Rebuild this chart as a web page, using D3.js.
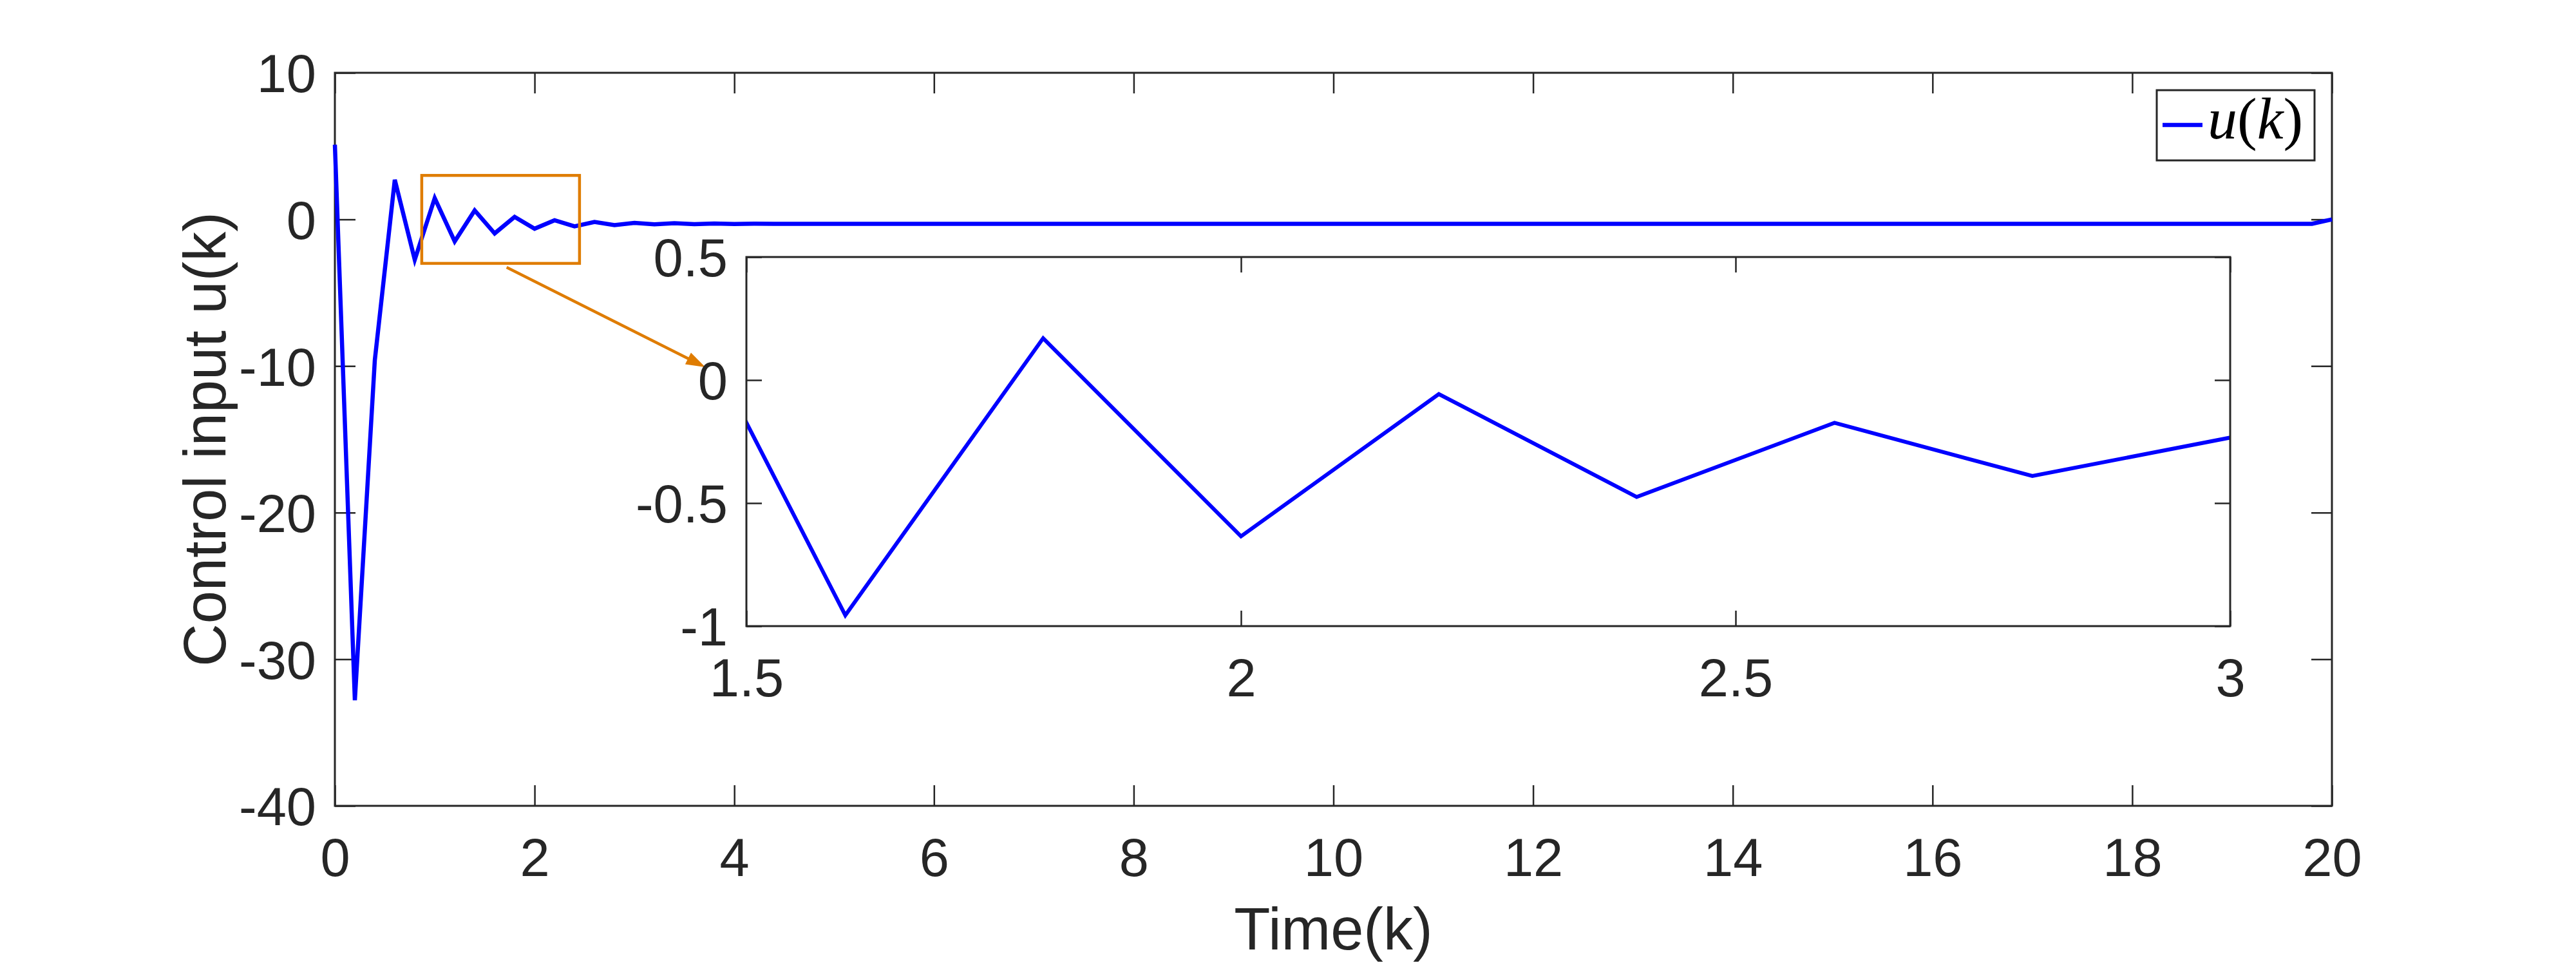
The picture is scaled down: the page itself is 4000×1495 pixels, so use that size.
<!DOCTYPE html>
<html><head><meta charset="utf-8">
<script src="https://cdn.jsdelivr.net/npm/d3@7"></script>
<style>html,body{margin:0;padding:0;background:#fff;}</style>
</head><body>
<svg id="chart" width="4000" height="1495"></svg>
<script>
// ---------- data ----------
const timeSteps = [0,0.2,0.4,0.6,0.8,1,1.2,1.4,1.6,1.8,2,2.2,2.4,2.6,2.8,3,3.2,3.4,3.6,3.8,
  4,4.2,4.4,4.6,4.8,5,5.2,5.4,5.6,5.8,6,6.2,6.4,6.6,6.8,7,7.2,7.4,7.6,7.8,
  8,8.2,8.4,8.6,8.8,9,9.2,9.4,9.6,9.8,10,10.2,10.4,10.6,10.8,11,11.2,11.4,11.6,11.8,
  12,12.2,12.4,12.6,12.8,13,13.2,13.4,13.6,13.8,14,14.2,14.4,14.6,14.8,15,15.2,15.4,15.6,15.8,
  16,16.2,16.4,16.6,16.8,17,17.2,17.4,17.6,17.8,18,18.2,18.4,18.6,18.8,19,19.2,19.4,19.6,19.8,20];
const uValues = [5.1,-32.8,-9.6,2.7,-2.75,1.45,-1.5,0.61,-0.956,0.17,-0.635,-0.057,-0.475,-0.174,-0.39,-0.234,-0.34,-0.26,-0.32,-0.28,
  -0.31,-0.29,-0.30,-0.30,-0.30,-0.30,-0.30,-0.30,-0.30,-0.30,-0.30,-0.30,-0.30,-0.30,-0.30,-0.30,-0.30,-0.30,-0.30,-0.30,
  -0.30,-0.30,-0.30,-0.30,-0.30,-0.30,-0.30,-0.30,-0.30,-0.30,-0.30,-0.30,-0.30,-0.30,-0.30,-0.30,-0.30,-0.30,-0.30,-0.30,
  -0.30,-0.30,-0.30,-0.30,-0.30,-0.30,-0.30,-0.30,-0.30,-0.30,-0.30,-0.30,-0.30,-0.30,-0.30,-0.30,-0.30,-0.30,-0.30,-0.30,
  -0.30,-0.30,-0.30,-0.30,-0.30,-0.30,-0.30,-0.30,-0.30,-0.30,-0.30,-0.30,-0.30,-0.30,-0.30,-0.30,-0.30,-0.30,-0.30,-0.30,0.0];

const xDomain = [0, 20];
const yDomain = [-40, 10];
const xTicks = [0,2,4,6,8,10,12,14,16,18,20];
const yTicks = [-40,-30,-20,-10,0,10];
const xTickLabels = ["0","2","4","6","8","10","12","14","16","18","20"];
const yTickLabels = ["-40","-30","-20","-10","0","10"];

const insetXDomain = [1.5, 3];
const insetYDomain = [-1, 0.5];
const insetXTicks = [1.5, 2, 2.5, 3];
const insetYTicks = [-1, -0.5, 0, 0.5];
const insetXLabels = ["1.5", "2", "2.5", "3"];
const insetYLabels = ["-1", "-0.5", "0", "0.5"];

const zoomBoxX = [0.87, 2.45];
const zoomBoxY = [-3, 3];
const arrowFrom = [1.72, -3.27];
const arrowTo = [3.71, -10.08];

const xLabel = "Time(k)";
const yLabel = "Control input u(k)";

// ---------- layout ----------
const svg = d3.select("#chart");
const ink = "#262626";
const blue = "#0000ff";
const orange = "#df7c00";
const tickFont = 83;
const main = {l:520, r:3621, t:113, b:1251};
const ins = {l:1159, r:3463, t:399, b:972};

svg.append("rect").attr("width",4000).attr("height",1495).attr("fill","#fff");

const x = d3.scaleLinear().domain(xDomain).range([main.l, main.r]);
const y = d3.scaleLinear().domain(yDomain).range([main.b, main.t]);

function styleAxis(g, fs){
  g.select(".domain").remove();
  g.selectAll(".tick line").attr("stroke", ink).attr("stroke-width", 2.5);
  g.selectAll(".tick text").attr("fill", ink).attr("font-family","'Liberation Sans', Arial, sans-serif").attr("font-size", fs);
}

function drawAxes(root, xs, ys, box, xt, yt, xFmt, yFmt, tl){
  const gb = root.append("g").attr("transform",`translate(0,${box.b})`)
    .call(d3.axisBottom(xs).tickValues(xt).tickSize(-tl).tickPadding(50).tickFormat(xFmt));
  styleAxis(gb, tickFont);
  const gt = root.append("g").attr("transform",`translate(0,${box.t})`)
    .call(d3.axisTop(xs).tickValues(xt).tickSize(-tl).tickFormat(""));
  styleAxis(gt, tickFont);
  const gl = root.append("g").attr("transform",`translate(${box.l},0)`)
    .call(d3.axisLeft(ys).tickValues(yt).tickSize(-tl).tickPadding(29).tickFormat(yFmt));
  styleAxis(gl, tickFont);
  gl.selectAll(".tick text").attr("dy","0.36em");
  const gr = root.append("g").attr("transform",`translate(${box.r},0)`)
    .call(d3.axisRight(ys).tickValues(yt).tickSize(-tl).tickFormat(""));
  styleAxis(gr, tickFont);
  root.append("rect").attr("x",box.l).attr("y",box.t).attr("width",box.r-box.l).attr("height",box.b-box.t)
    .attr("fill","none").attr("stroke",ink).attr("stroke-width",3);
}

// main axes
const mainG = svg.append("g");
drawAxes(mainG, x, y, main, xTicks, yTicks, (d,i)=>xTickLabels[i], (d,i)=>yTickLabels[i], 32);

const data = timeSteps.map((t,i)=>[t, uValues[i]]);
const line = d3.line().x(d=>x(d[0])).y(d=>y(d[1]));
mainG.append("path").datum(data).attr("d", line).attr("fill","none")
  .attr("stroke", blue).attr("stroke-width", 6.5).attr("stroke-linejoin","miter");

// labels
svg.append("text").attr("x", (main.l+main.r)/2).attr("y", 1474).attr("text-anchor","middle")
  .attr("font-family","'Liberation Sans', Arial, sans-serif").attr("font-size",92).attr("fill",ink).text(xLabel);
svg.append("text").attr("transform",`translate(350,${(main.t+main.b)/2}) rotate(-90)`).attr("text-anchor","middle")
  .attr("font-family","'Liberation Sans', Arial, sans-serif").attr("font-size",92).attr("fill",ink).text(yLabel);

// zoom box
svg.append("rect").attr("x", x(zoomBoxX[0])).attr("y", y(zoomBoxY[1]))
  .attr("width", x(zoomBoxX[1])-x(zoomBoxX[0])).attr("height", y(zoomBoxY[0])-y(zoomBoxY[1]))
  .attr("fill","none").attr("stroke",orange).attr("stroke-width",4.5);

// arrow
(function(){
  const x1=x(arrowFrom[0]), y1=y(arrowFrom[1]), x2=x(arrowTo[0]), y2=y(arrowTo[1]);
  const dx=x2-x1, dy=y2-y1, len=Math.hypot(dx,dy), ux=dx/len, uy=dy/len, px=-uy, py=ux;
  const hl=30, hw=10;
  const bx=x2-hl*ux, by=y2-hl*uy;
  svg.append("line").attr("x1",x1).attr("y1",y1).attr("x2",bx+2*ux).attr("y2",by+2*uy)
    .attr("stroke",orange).attr("stroke-width",4.5);
  svg.append("path").attr("d",`M${x2},${y2}L${bx+hw*px},${by+hw*py}L${bx-hw*px},${by-hw*py}Z`).attr("fill",orange);
})();

// legend
const lg = svg.append("g");
lg.append("rect").attr("x",3349).attr("y",140).attr("width",245).attr("height",109)
  .attr("fill","#fff").attr("stroke",ink).attr("stroke-width",3);
lg.append("line").attr("x1",3358).attr("x2",3420).attr("y1",194).attr("y2",194)
  .attr("stroke",blue).attr("stroke-width",6.5);
const lt = lg.append("text").attr("x",3428).attr("y",215)
  .attr("font-family","'Liberation Serif', 'Times New Roman', serif").attr("font-size",92).attr("fill","#000");
lt.append("tspan").attr("font-style","italic").text("u");
lt.append("tspan").text("(");
lt.append("tspan").attr("font-style","italic").text("k");
lt.append("tspan").text(")");

// inset
const xi = d3.scaleLinear().domain(insetXDomain).range([ins.l, ins.r]);
const yi = d3.scaleLinear().domain(insetYDomain).range([ins.b, ins.t]);
const insG = svg.append("g");
insG.append("rect").attr("x",ins.l).attr("y",ins.t).attr("width",ins.r-ins.l).attr("height",ins.b-ins.t).attr("fill","#fff");
svg.append("clipPath").attr("id","insClip").append("rect")
  .attr("x",ins.l).attr("y",ins.t).attr("width",ins.r-ins.l).attr("height",ins.b-ins.t);
const lineI = d3.line().x(d=>xi(d[0])).y(d=>yi(d[1]));
insG.append("path").datum(data).attr("d", lineI).attr("clip-path","url(#insClip)").attr("fill","none")
  .attr("stroke", blue).attr("stroke-width", 6).attr("stroke-linejoin","miter");
drawAxes(insG, xi, yi, ins, insetXTicks, insetYTicks,
  (d,i)=>insetXLabels[i], (d,i)=>insetYLabels[i], 24);
</script>
</body></html>
